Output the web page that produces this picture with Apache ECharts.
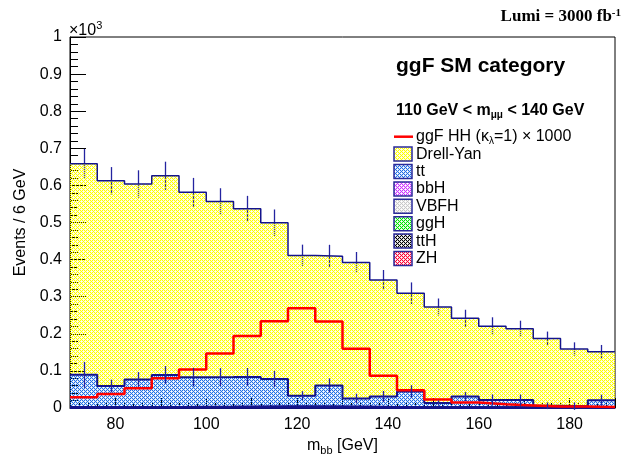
<!DOCTYPE html>
<html><head><meta charset="utf-8">
<script src="https://cdn.jsdelivr.net/npm/echarts@6/dist/echarts.min.js"></script>
<style>html,body{margin:0;padding:0;background:#fff}#c{width:637px;height:462px}</style>
</head><body><div id="c"></div>
<script>
// ---- data (events per 6 GeV bin) ----
const binEdges = [70,76,82,88,94,100,106,112,118,124,130,136,142,148,154,160,166,172,178,184,190];
const drellYan = [569,553,527,537,498,473,453,421,378,348,367,314,265,259,211,199,192,181,154,131];
const ttbar    = [87,57,74,86,80,80,80,74,29,57,22,28,42,11,29,20,20,5,4,20];
const bbH      = [0.2,0.2,0.2,0.2,0.2,0.2,0.2,0.2,0.2,0.2,0.2,0.2,0.2,0.2,0.2,0.1,0.1,0.1,0.1,0.1];
const vbfH     = [0.4,0.4,0.5,0.5,0.6,0.6,0.7,0.7,0.7,0.6,0.6,0.5,0.4,0.4,0.3,0.3,0.2,0.2,0.2,0.2];
const ggH      = [0.8,0.9,1.0,1.1,1.2,1.4,1.6,1.8,2.0,1.9,1.6,1.3,1.0,0.8,0.6,0.5,0.4,0.3,0.3,0.2];
const ttH      = [0.4,0.4,0.4,0.5,0.5,0.5,0.5,0.6,0.6,0.5,0.5,0.4,0.4,0.4,0.3,0.3,0.3,0.2,0.2,0.2];
const zH       = [0.5,0.5,0.6,0.6,0.7,0.7,0.8,0.8,0.8,0.7,0.6,0.5,0.5,0.4,0.4,0.3,0.3,0.2,0.2,0.2];
const ggFHHx1000 = [29,38,53,80,104,147,194,234,269,233,160,87,48,23,15,10,7,4,4,3];
const errTotal = [40,37,37,38,39,36,35,36,29,31,28,27,29,23,23,24,22,19,18,18];
const errTT    = [35,17,20,24,25,24,24,22,12,19,13,15,17,7,12,15,15,9,10,15];
const yTicks = [0,100,200,300,400,500,600,700,800,900,1000];

// ---- styles ----
const NAVY = '#14148c';
function makePattern(hex) {
  const c = document.createElement('canvas'); c.width = 4; c.height = 4;
  const g = c.getContext('2d');
  const r = parseInt(hex.slice(1,3),16), gg = parseInt(hex.slice(3,5),16), b = parseInt(hex.slice(5,7),16);
  const img = g.createImageData(4,4);
  const holes = [[1,1],[3,3]];
  for (let y=0;y<4;y++) for (let x=0;x<4;x++) {
    let d = 99;
    holes.forEach(h => { for (let dx=-4;dx<=4;dx+=4) for (let dy=-4;dy<=4;dy+=4) {
      d = Math.min(d, Math.hypot(x-(h[0]+dx), y-(h[1]+dy))); } });
    const a = d < 0.6 ? 0 : (d < 1.1 ? 0.2 : 1);
    const k = (y*4+x)*4;
    img.data[k]=r; img.data[k+1]=gg; img.data[k+2]=b; img.data[k+3]=Math.round(a*255);
  }
  g.putImageData(img,0,0);
  return {image: c, repeat: 'repeat'};
}
const colors = {dy:'#ffff00', tt:'#1f6fe6', bbH:'#cc33ff', vbfH:'#c8c8c8', ggH:'#00e600', ttH:'#000000', zH:'#ff0033'};
const pat = {}; Object.keys(colors).forEach(k => pat[k] = makePattern(colors[k]));

const nb = binEdges.length - 1;
const centers = binEdges.slice(0,-1).map((e,i) => (e + binEdges[i+1]) / 2);
function stepPts(arr) { return binEdges.map((e,i) => [e, arr[Math.min(i, arr.length-1)]]); }

// stack order bottom -> top
const stackDefs = [
  {name:'ZH', arr:zH, key:'zH', lw:2}, {name:'ttH', arr:ttH, key:'ttH', lw:2}, {name:'ggH', arr:ggH, key:'ggH', lw:2},
  {name:'VBFH', arr:vbfH, key:'vbfH', lw:2}, {name:'bbH', arr:bbH, key:'bbH', lw:2},
  {name:'tt', arr:ttbar, key:'tt', lw:2}, {name:'Drell-Yan', arr:drellYan, key:'dy', lw:1.5}
];
let cum = new Array(nb).fill(0);
const stackSeries = [];
stackDefs.forEach(def => {
  const lo = cum.slice();
  const hi = cum.map((v,i) => v + def.arr[i]);
  cum = hi;
  stackSeries.push({type:'custom', z:2, silent:true, encode:{x:[0,1], y:[2,3]},
    data: centers.map((c,i) => [binEdges[i], binEdges[i+1], lo[i], hi[i]]),
    renderItem(params, api) {
      const a = api.coord([api.value(0), api.value(3)]);
      const b = api.coord([api.value(1), api.value(2)]);
      const x0 = Math.round(a[0]), x1 = Math.round(b[0]), y0 = Math.round(a[1]), y1 = Math.round(b[1]);
      return {type:'rect', shape:{x:x0, y:y0, width:x1-x0, height:y1-y0}, style:{fill: pat[def.key]}};
    }});
  stackSeries.push({type:'line', step:'end', symbol:'none', data: stepPts(hi), z:3, silent:true,
    lineStyle:{color:NAVY, width:def.lw}});
  def.top = hi;
});
const ttTop = stackDefs[5].top;
const total = stackDefs[6].top;

function errSeries(vals, errs, z) {
  return {type:'custom', z, silent:true, encode:{x:0,y:1},
    data: centers.map((c,i) => [c, vals[i], errs[i]]),
    renderItem(params, api) {
      const x = api.value(0), v = api.value(1), e = api.value(2);
      const p0 = api.coord([x, v-e]), p2 = api.coord([x, v+e]);
      const px = Math.round(p0[0]) + 0.5;
      return {type:'line', shape:{x1:px,y1:p0[1],x2:px,y2:p2[1]}, style:{stroke:'#2424a0', lineWidth:1.3}};
    }};
}

const FONT = 'Liberation Sans';
const legendItems = [
  {key:'dy', text:'Drell-Yan'}, {key:'tt', text:'tt'}, {key:'bbH', text:'bbH'}, {key:'vbfH', text:'VBFH'},
  {key:'ggH', text:'ggH'}, {key:'ttH', text:'ttH'}, {key:'zH', text:'ZH'}
];
const LX = 394, LY0 = 136.7, LDY = 17.4;
const graphics = [
  {type:'text', x:621, y:17, style:{text:'{a|Lumi = 3000 fb}{s|-1}', align:'right', verticalAlign:'middle',
    rich:{a:{fontFamily:'Liberation Serif', fontWeight:'bold', fontSize:17, fill:'#000'},
          s:{fontFamily:'Liberation Serif', fontWeight:'bold', fontSize:11, fill:'#000', padding:[0,0,8,0]}}}},
  {type:'text', x:69, y:31, style:{text:'{a|×10}{s|3}', align:'left', verticalAlign:'middle',
    rich:{a:{fontFamily:FONT, fontSize:16, fill:'#000'}, s:{fontFamily:FONT, fontSize:11, fill:'#000', padding:[0,0,10,0]}}}},
  {type:'text', x:396, y:66, style:{text:'ggF SM category', fontFamily:FONT, fontWeight:'bold', fontSize:21, fill:'#000', verticalAlign:'middle'}},
  {type:'text', x:396, y:111, style:{text:'{a|110 GeV < m}{s|μμ}{a| < 140 GeV}', verticalAlign:'middle',
    rich:{a:{fontFamily:FONT, fontWeight:'bold', fontSize:16, fill:'#000'}, s:{fontFamily:FONT, fontWeight:'bold', fontSize:10, fill:'#000', padding:[9,0,0,0]}}}},
  {type:'line', shape:{x1:LX, y1:LY0, x2:LX+19, y2:LY0}, style:{stroke:'#ff0000', lineWidth:2.5}},
  {type:'text', x:LX+22, y:LY0, style:{text:'{a|ggF HH (κ}{s|λ}{a|=1) × 1000}', verticalAlign:'middle',
    rich:{a:{fontFamily:FONT, fontSize:16, fill:'#000'}, s:{fontFamily:FONT, fontSize:10, fill:'#000', padding:[9,0,0,0]}}}}
];
legendItems.forEach((it, i) => {
  const y = LY0 + LDY*(i+1);
  graphics.push({type:'rect', shape:{x:LX, y:y-7, width:18, height:14}, style:{fill:pat[it.key], stroke:'#2a2a9a', lineWidth:1.5}});
  graphics.push({type:'text', x:LX+22, y:y, style:{text:it.text, fontFamily:FONT, fontSize:16, fill:'#000', verticalAlign:'middle'}});
});

const chart = echarts.init(document.getElementById('c'), null, {renderer:'canvas'});
chart.setOption({
  animation:false,
  backgroundColor:'#fff',
  grid:{left:70, right:22, top:37, bottom:54, show:true, borderColor:'#000', borderWidth:1, backgroundColor:'transparent'},
  xAxis:{type:'value', min:binEdges[0], max:binEdges[nb], interval:10,
    axisLine:{show:true, lineStyle:{color:'#000', width:1}},
    axisTick:{show:true, inside:true, length:10, lineStyle:{color:'#000'}},
    minorTick:{show:true, splitNumber:5, length:5, lineStyle:{color:'#000'}},
    splitLine:{show:false},
    axisLabel:{margin:9, fontFamily:FONT, fontSize:16, color:'#000', formatter: v => (v % 20 === 0 ? String(v) : '')},
    name:'{m|m}{s|bb}{m| [GeV]}', nameLocation:'middle', nameGap:28,
    nameTextStyle:{rich:{m:{fontFamily:FONT, fontSize:16, color:'#000'}, s:{fontFamily:FONT, fontSize:11, color:'#000', padding:[9,0,0,0]}}}
  },
  yAxis:{type:'value', min:yTicks[0], max:yTicks[yTicks.length-1], interval:100,
    axisLine:{show:true, lineStyle:{color:'#000', width:1}},
    axisTick:{show:true, inside:true, length:16, lineStyle:{color:'#000'}},
    minorTick:{show:true, splitNumber:5, length:8, lineStyle:{color:'#000'}},
    splitLine:{show:false},
    axisLabel:{margin:8, fontFamily:FONT, fontSize:16, color:'#000', formatter: v => (v===0 ? '0' : String(+(v/1000).toFixed(1)))},
    name:'Events / 6 GeV', nameLocation:'middle', nameGap:38,
    nameTextStyle:{fontFamily:FONT, fontSize:16, color:'#000'}
  },
  graphic: graphics,
  series:[
    errSeries(total, errTotal, 1),
    ...stackSeries,
    {name:'ggF HH', type:'line', step:'end', symbol:'none', data: stepPts(ggFHHx1000), z:4, silent:true,
      lineStyle:{color:'#ff0000', width:2.5}},
    errSeries(ttTop, errTT, 5)
  ]
});
</script></body></html>
